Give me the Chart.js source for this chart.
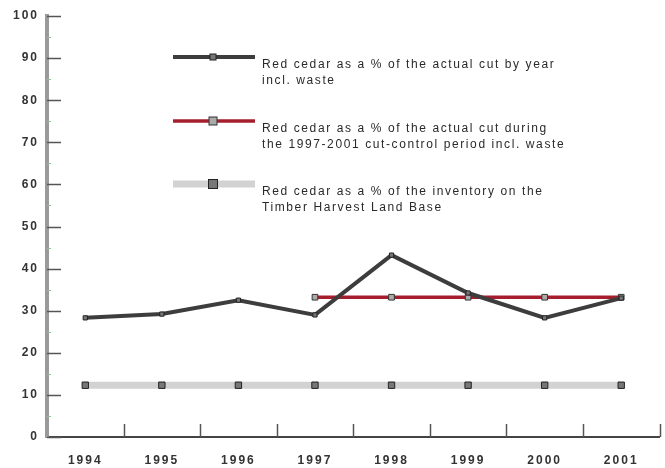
<!DOCTYPE html>
<html>
<head>
<meta charset="utf-8">
<script src="https://cdn.jsdelivr.net/npm/chart.js@4/dist/chart.umd.min.js"></script>
<style>
html,body{margin:0;padding:0;background:#fff;}
#wrap{position:relative;width:665px;height:468px;}
</style>
</head>
<body>
<div id="wrap"><canvas id="c" width="665" height="468"></canvas></div>
<script>
const years = ['1994','1995','1996','1997','1998','1999','2000','2001'];
const annualCut = [28.3, 29.2, 32.5, 29.0, 43.2, 34.2, 28.3, 33.0];
const cutControl = [null, null, null, 33.2, 33.2, 33.2, 33.2, 33.2];
const inventory = [12.3, 12.3, 12.3, 12.3, 12.3, 12.3, 12.3, 12.3];
const seriesLabels = [
  ['Red cedar as a % of the actual cut by year', 'incl. waste'],
  ['Red cedar as a % of the actual cut during', 'the 1997-2001 cut-control period incl. waste'],
  ['Red cedar as a % of the inventory on the', 'Timber Harvest Land Base']
];
const yTicks = [0,10,20,30,40,50,60,70,80,90,100];

const FONT = '"Liberation Sans", Arial, sans-serif';

const spacing = {
  id: 'spacing',
  beforeDraw(chart) { chart.ctx.letterSpacing = '2px'; }
};

const innerTicks = {
  id: 'innerTicks',
  afterDatasetsDraw(chart) {
    const ctx = chart.ctx, x = chart.scales.x, y = chart.scales.y;
    const ca = chart.chartArea;
    ctx.save();
    ctx.strokeStyle = '#555'; ctx.lineWidth = 1.5;
    yTicks.forEach(v => {
      const p = Math.round(y.getPixelForValue(v)) + 0.5;
      ctx.beginPath(); ctx.moveTo(ca.left, p); ctx.lineTo(ca.left + 14, p); ctx.stroke();
    });
    ctx.strokeStyle = '#9b9'; ctx.lineWidth = 1;
    yTicks.slice(0, -1).forEach(v => {
      const p = Math.round(y.getPixelForValue(v + 5)) + 0.5;
      ctx.beginPath(); ctx.moveTo(ca.left, p); ctx.lineTo(ca.left + 4, p); ctx.stroke();
    });
    ctx.strokeStyle = '#555'; ctx.lineWidth = 1.5;
    years.forEach((_, i) => {
      const p = Math.round(x.getPixelForValue(i + 0.5)) + 0.5;
      ctx.beginPath(); ctx.moveTo(p, ca.bottom); ctx.lineTo(p, ca.bottom - 13); ctx.stroke();
    });
    ctx.restore();
  }
};

const legendBox = {
  id: 'legendBox',
  afterDraw(chart) {
    const ctx = chart.ctx;
    const rows = [57, 121, 184];
    ctx.save();
    chart.data.datasets.forEach((ds, i) => {
      const ly = rows[i];
      const x0 = 173, x1 = 255;
      ctx.strokeStyle = ds.borderColor; ctx.lineWidth = ds.borderWidth;
      ctx.beginPath(); ctx.moveTo(x0, ly); ctx.lineTo(x1, ly); ctx.stroke();
      const r = ds.pointRadius;
      ctx.fillStyle = ds.pointBackgroundColor; ctx.strokeStyle = ds.pointBorderColor; ctx.lineWidth = 1;
      ctx.fillRect(213 - r, ly - r, 2 * r, 2 * r);
      ctx.strokeRect(213 - r, ly - r, 2 * r, 2 * r);
      ctx.fillStyle = '#2a2a2a';
      ctx.font = '12px ' + FONT;
      ctx.letterSpacing = '1.6px';
      ctx.textBaseline = 'middle';
      ds.label.forEach((t, k) => ctx.fillText(t, 262, ly + 8 + k * 16));
    });
    ctx.restore();
  }
};

new Chart(document.getElementById('c'), {
  type: 'line',
  data: {
    labels: years,
    datasets: [
      {
        label: seriesLabels[0], data: annualCut,
        borderColor: '#3d3d3d', borderWidth: 4,
        pointStyle: 'rect', pointRadius: 3,
        pointBackgroundColor: '#777', pointBorderColor: '#222', pointBorderWidth: 1,
        tension: 0, order: 1
      },
      {
        label: seriesLabels[1], data: cutControl,
        borderColor: '#a51e2e', borderWidth: 3.5,
        pointStyle: 'rect', pointRadius: 4,
        pointBackgroundColor: '#aaa', pointBorderColor: '#333', pointBorderWidth: 1,
        tension: 0, order: 2
      },
      {
        label: seriesLabels[2], data: inventory,
        borderColor: '#d2d2d2', borderWidth: 7,
        pointStyle: 'rect', pointRadius: 4.5,
        pointBackgroundColor: '#777', pointBorderColor: '#222', pointBorderWidth: 1,
        tension: 0, order: 3
      }
    ]
  },
  options: {
    responsive: false,
    animation: false,
    layout: { padding: { left: 0, right: 5, top: 16, bottom: 0 } },
    plugins: { legend: { display: false }, tooltip: { enabled: false } },
    scales: {
      x: {
        type: 'category',
        offset: true,
        afterFit(s) { s.height = 31; },
        grid: { display: true, drawOnChartArea: false, drawTicks: false, offset: true },
        border: { display: true, color: '#444', width: 2 },
        ticks: { color: '#333', font: { family: FONT, size: 12, weight: 'bold' }, padding: 16, maxRotation: 0, autoSkip: false }
      },
      y: {
        min: 0, max: 100,
        afterFit(s) { s.width = 47; },
        afterBuildTicks(s) { s.ticks = yTicks.map(v => ({ value: v })); },
        grid: { display: true, drawOnChartArea: false, drawTicks: false },
        border: { display: true, color: '#9a9a9a', width: 4 },
        ticks: { color: '#333', font: { family: FONT, size: 12, weight: 'bold' }, padding: 8 }
      }
    }
  },
  plugins: [spacing, innerTicks, legendBox]
});
</script>
</body>
</html>
